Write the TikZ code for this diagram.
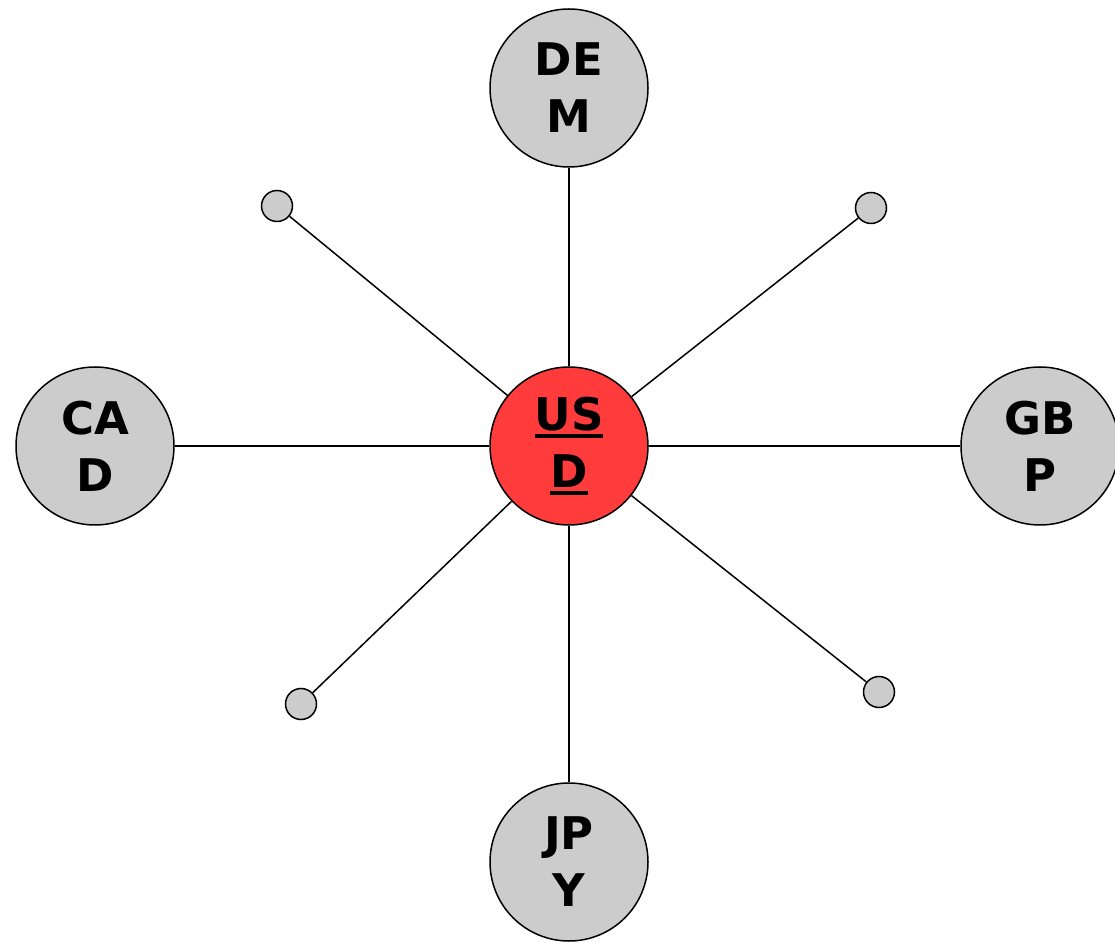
\documentclass[tikz,border=0pt]{standalone}
\usepackage{fontspec}
\setmainfont{DejaVu Sans}
\definecolor{nodegray}{HTML}{CCCCCC}
\definecolor{usdred}{HTML}{FF3B3B}
\newcommand\ulbox[1]{\setbox0\hbox{#1}\rlap{\rule[-8pt]{\wd0}{4pt}}\box0}
\begin{document}
\begin{tikzpicture}[x=1pt,y=1pt,
  cur/.style={circle,draw=black,line width=1.5pt,fill=nodegray,minimum size=158pt,inner sep=0pt,
    align=center,font=\fontsize{45}{57}\selectfont\bfseries},
  usd/.style={cur,fill=usdred},
  dot/.style={circle,draw=black,line width=1.5pt,fill=nodegray,minimum size=31pt,inner sep=0pt},
  link/.style={draw=black,line width=1.5pt}]
\useasboundingbox (0,0) rectangle (1115,945);
\node[usd] (usd) at (569,499) {\ulbox{US}\\\ulbox{D}};
\node[cur] (dem) at (569,857) {DE\\M};
\node[cur] (cad) at (95,499) {CA\\D};
\node[cur] (gbp) at (1040,499) {GB\\P};
\node[cur] (jpy) at (569,83) {JP\\Y};
\node[dot] (d1) at (277,739) {};
\node[dot] (d2) at (871,737) {};
\node[dot] (d3) at (301,241) {};
\node[dot] (d4) at (879,253) {};
\foreach \n in {dem,cad,gbp,jpy,d1,d2,d3,d4} \draw[link] (usd) -- (\n);
\end{tikzpicture}
\end{document}
